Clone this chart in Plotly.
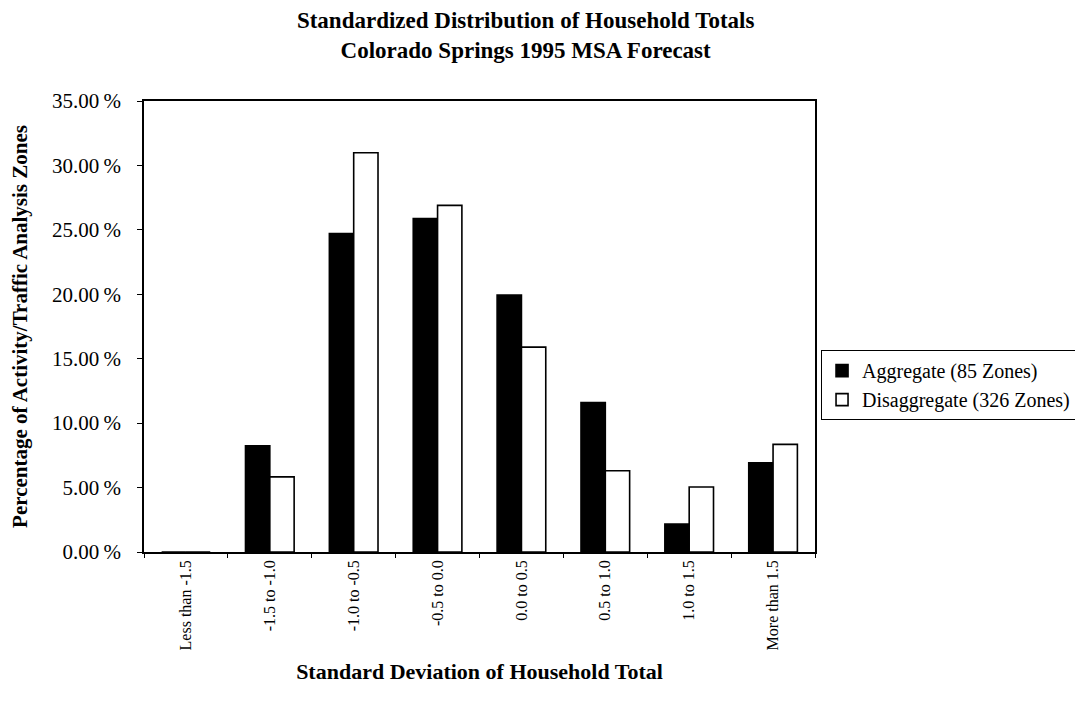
import plotly.graph_objects as go

categories = ["Less than -1.5", "-1.5 to -1.0", "-1.0 to -0.5", "-0.5 to 0.0",
              "0.0 to 0.5", "0.5 to 1.0", "1.0 to 1.5", "More than 1.5"]
aggregate = [0.0, 0.0824, 0.2471, 0.2588, 0.1995, 0.1160, 0.0216, 0.0693]
disaggregate = [0.0, 0.0583, 0.3098, 0.2690, 0.1590, 0.0630, 0.0505, 0.0835]
y_ticks = [0, 0.05, 0.10, 0.15, 0.20, 0.25, 0.30, 0.35]
y_ticktext = [f"{v * 100:.2f}\u2009%" for v in y_ticks]

FONT = "Liberation Serif"

fig = go.Figure()
fig.add_trace(go.Bar(x=categories, y=aggregate, name="Aggregate (85 Zones)",
                     marker=dict(color="black", line=dict(color="black", width=1.6))))
fig.add_trace(go.Bar(x=categories, y=disaggregate, name="Disaggregate (326 Zones)",
                     marker=dict(color="white", line=dict(color="black", width=1.6))))

fig.update_layout(
    width=1083, height=707,
    paper_bgcolor="white", plot_bgcolor="white",
    margin=dict(l=136, r=276, t=93, b=163, autoexpand=False),
    barmode="group", bargap=0.42, bargroupgap=0,
    font=dict(family=FONT, color="black", size=18),
    title=dict(text="<b>Standardized Distribution of Household Totals<br>Colorado Springs 1995 MSA Forecast</b>",
               x=0.478, xanchor="center", y=0.972, yanchor="top",
               font=dict(family=FONT, size=23, color="black")),
    legend=dict(x=1.009, y=0.37, xanchor="left", yanchor="middle",
                bordercolor="black", borderwidth=1, bgcolor="white",
                font=dict(family=FONT, size=20, color="black"),
                itemwidth=30, tracegroupgap=0),
    showlegend=True,
)
fig.update_xaxes(
    title=dict(text="<b>Standard Deviation of Household Total</b>",
               font=dict(family=FONT, size=22), standoff=14),
    tickangle=-90, tickson="boundaries", ticks="outside", ticklen=4,
    tickcolor="black", showline=True, linecolor="black", linewidth=1.6,
    mirror=True, showgrid=False, tickfont=dict(family=FONT, size=16),
)
fig.update_yaxes(
    title=dict(text="<b>Percentage of Activity/Traffic Analysis Zones</b>",
               font=dict(family=FONT, size=21), standoff=20),
    range=[0, 0.35], tickvals=y_ticks, ticktext=y_ticktext,
    ticks="outside", ticklen=5, tickcolor="black", ticklabelstandoff=12,
    showline=True, linecolor="black", linewidth=1.6, mirror=True,
    showgrid=False, zeroline=False, tickfont=dict(family=FONT, size=21),
)

fig.write_html("out.html")
